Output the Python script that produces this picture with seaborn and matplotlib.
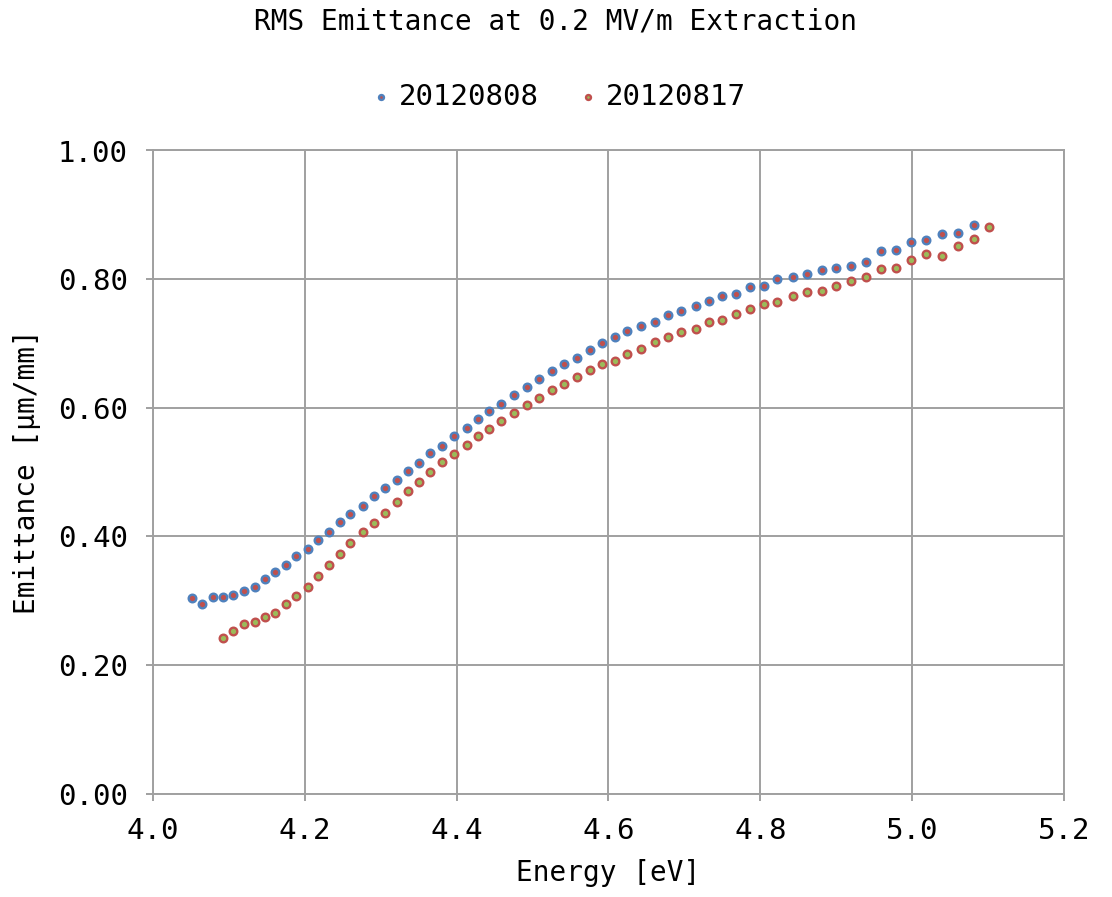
import matplotlib
matplotlib.use("Agg")
import matplotlib.pyplot as plt
import seaborn as sns
import pandas as pd

# ---- data ----
energy_0808 = [4.052, 4.065, 4.079, 4.092, 4.106, 4.120, 4.134, 4.147, 4.161, 4.175,
               4.188, 4.204, 4.218, 4.232, 4.246, 4.260, 4.276, 4.291, 4.306, 4.321,
               4.336, 4.350, 4.365, 4.381, 4.396, 4.413, 4.428, 4.443, 4.459, 4.476,
               4.492, 4.509, 4.525, 4.541, 4.558, 4.575, 4.592, 4.609, 4.625, 4.643,
               4.661, 4.679, 4.696, 4.715, 4.732, 4.750, 4.768, 4.786, 4.805, 4.822,
               4.843, 4.862, 4.881, 4.900, 4.920, 4.939, 4.959, 4.979, 4.999, 5.018,
               5.039, 5.060, 5.081]
emit_0808 = [0.304, 0.295, 0.306, 0.306, 0.308, 0.315, 0.321, 0.333, 0.345, 0.355,
             0.369, 0.381, 0.395, 0.406, 0.422, 0.434, 0.447, 0.462, 0.475, 0.488,
             0.501, 0.514, 0.529, 0.541, 0.556, 0.568, 0.582, 0.595, 0.605, 0.619,
             0.632, 0.644, 0.657, 0.668, 0.678, 0.689, 0.700, 0.710, 0.720, 0.727,
             0.733, 0.744, 0.750, 0.758, 0.766, 0.773, 0.777, 0.788, 0.790, 0.800,
             0.803, 0.808, 0.814, 0.818, 0.820, 0.827, 0.843, 0.845, 0.857, 0.861,
             0.870, 0.871, 0.884]

energy_0817 = [4.092, 4.106, 4.120, 4.134, 4.147, 4.161, 4.175, 4.188, 4.204, 4.218,
               4.232, 4.246, 4.260, 4.276, 4.291, 4.306, 4.321, 4.336, 4.350, 4.365,
               4.381, 4.396, 4.413, 4.428, 4.443, 4.459, 4.476, 4.492, 4.509, 4.525,
               4.541, 4.558, 4.575, 4.592, 4.609, 4.625, 4.643, 4.661, 4.679, 4.696,
               4.715, 4.732, 4.750, 4.768, 4.786, 4.805, 4.822, 4.843, 4.862, 4.881,
               4.900, 4.920, 4.939, 4.959, 4.979, 4.999, 5.018, 5.039, 5.060, 5.081,
               5.101]
emit_0817 = [0.242, 0.253, 0.263, 0.266, 0.274, 0.280, 0.295, 0.307, 0.321, 0.338,
             0.355, 0.372, 0.389, 0.406, 0.420, 0.437, 0.454, 0.470, 0.484, 0.500,
             0.516, 0.528, 0.542, 0.556, 0.567, 0.580, 0.591, 0.604, 0.615, 0.627,
             0.637, 0.647, 0.658, 0.668, 0.672, 0.683, 0.692, 0.702, 0.710, 0.717,
             0.722, 0.733, 0.736, 0.746, 0.754, 0.761, 0.764, 0.773, 0.780, 0.782,
             0.789, 0.797, 0.803, 0.815, 0.818, 0.829, 0.839, 0.836, 0.851, 0.862,
             0.881]

series_labels = ["20120808", "20120817"]
x_ticks = [4.0, 4.2, 4.4, 4.6, 4.8, 5.0, 5.2]
y_ticks = [0.0, 0.2, 0.4, 0.6, 0.8, 1.0]

# ---- style ----
sns.set_theme(style="white")
plt.rcParams['font.family'] = ['DejaVu Sans Mono', 'DejaVu Sans']
plt.rcParams['text.color'] = 'black'
plt.rcParams['axes.labelcolor'] = 'black'
plt.rcParams['xtick.color'] = 'black'
plt.rcParams['ytick.color'] = 'black'

fig = plt.figure(figsize=(11.12, 8.97), dpi=100)
ax = fig.add_axes([153/1112, 1 - 793.5/897, (1064-153)/1112, (793.5-150.5)/897])

grid_col = "#A0A0A0"

df1 = pd.DataFrame({"x": energy_0808, "y": emit_0808})
df2 = pd.DataFrame({"x": energy_0817, "y": emit_0817})

sns.scatterplot(data=df1, x="x", y="y", ax=ax, s=30, color="#C0504D",
                edgecolor="#4F81BD", linewidth=1.7, label=series_labels[0], zorder=3)
sns.scatterplot(data=df2, x="x", y="y", ax=ax, s=30, color="#9BBB59",
                edgecolor="#C0504D", linewidth=1.7, label=series_labels[1], zorder=3)

ax.set_xlim(4.0, 5.2)
ax.set_ylim(0.0, 1.0)
ax.set_xticks(x_ticks)
ax.set_yticks(y_ticks)
ax.set_xticklabels([f"{v:.1f}" for v in x_ticks])
ax.set_yticklabels([f"{v:.2f}" for v in y_ticks])
ax.grid(True, color=grid_col, linewidth=1.4, zorder=0)
ax.set_axisbelow(True)
for sp in ax.spines.values():
    sp.set_color(grid_col)
    sp.set_linewidth(1.4)
ax.tick_params(axis="both", which="major", labelsize=21, color=grid_col,
               labelcolor="black", length=5, width=1.4, direction="out",
               left=True, bottom=True)
ax.tick_params(axis="x", pad=12)
ax.tick_params(axis="y", pad=13)

ax.set_xlabel("Energy [eV]", fontsize=20, labelpad=10, color="black")
ax.set_ylabel("Emittance [μm/mm]", fontsize=20, labelpad=12, color="black")

fig.suptitle("RMS Emittance at 0.2 MV/m Extraction", fontsize=20, y=1 - 21/897,
             va="center", color="black")

ax.get_legend().remove()
handles, labels = ax.get_legend_handles_labels()
leg = fig.legend(handles, labels, loc="center", bbox_to_anchor=(0.5, 1 - 97/897), ncol=2,
                 frameon=False, fontsize=21, markerscale=0.65, handletextpad=0.1,
                 columnspacing=1.2, handlelength=1.0)
for t in leg.get_texts():
    t.set_color("black")

fig.savefig("out.png", dpi=100)
